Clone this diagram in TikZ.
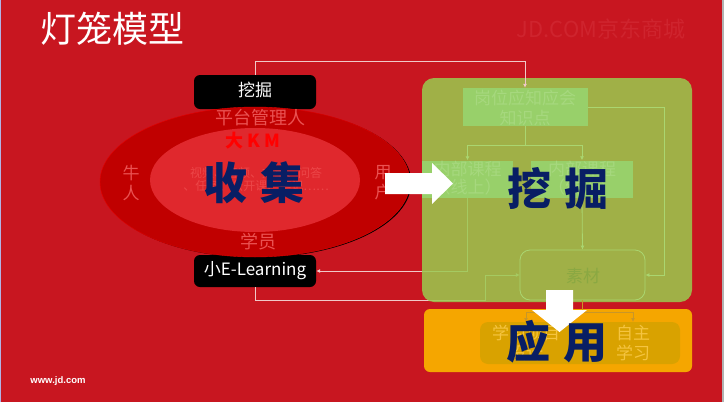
\documentclass[tikz,border=0pt]{standalone}
\usepackage{fontspec}
\setmainfont{Noto Sans CJK SC}
\newfontfamily\cjk{Noto Sans CJK SC}
\newfontfamily\arialf{Liberation Sans}
\usetikzlibrary{arrows.meta,shapes.geometric}
\definecolor{bgred}{RGB}{200,22,32}
\definecolor{ellred}{RGB}{192,0,0}
\definecolor{innred}{RGB}{224,40,45}
\definecolor{softred}{RGB}{234,82,82}
\definecolor{faintred}{RGB}{236,70,72}
\definecolor{navy}{RGB}{8,30,100}
\definecolor{olive}{RGB}{153,203,79}
\definecolor{litegreen}{RGB}{152,208,106}
\definecolor{linegreen}{RGB}{170,214,112}
\definecolor{gtext}{RGB}{166,216,126}
\definecolor{sctext}{RGB}{138,168,66}
\definecolor{orangebox}{RGB}{245,166,0}
\definecolor{darkyel}{RGB}{217,162,0}
\definecolor{yeltext}{RGB}{245,196,64}
\definecolor{tanline}{RGB}{200,150,40}
\definecolor{pinkline}{RGB}{240,200,200}
\definecolor{wmark}{RGB}{207,36,46}
\tikzset{
  fs/.style={font=\cjk\fontsize{#1}{#1}\selectfont},
  blackbox/.style={fill=black, rounded corners=6pt, minimum width=122pt, inner sep=0},
  gbox/.style={fill=litegreen, minimum width=#1, inner sep=0},
  txt/.style={inner sep=0, align=center},
  conn/.style={line width=0.8pt},
  tip/.style={-{Latex[length=4pt,width=4pt]}}
}
\begin{document}
\begin{tikzpicture}[x=1pt,y=-1pt]
\useasboundingbox (0,0) rectangle (724,402);
\fill[bgred] (0,0) rectangle (724,402);
\fill[gray!60] (721.5,0) rectangle (724,402);
\fill[gray!50!blue!40] (0,0) rectangle (0.8,402);

% title & watermark
\node[txt, fs=36, text=white] (title) at (113,29) {灯笼模型};
\node[txt, fs=22, text=wmark] (wm) at (601,29) {JD.COM京东商城};

% black boxes
\node[blackbox, minimum height=34pt] (wj) at (255,92) {};
\node[blackbox, minimum height=32pt] (elb) at (255,271) {};

% ellipses
\node[ellipse, fill=black, minimum width=310pt, minimum height=150pt, inner sep=0] (shad) at (256.3,182.6) {};
\node[ellipse, fill=ellred, draw=red!90!black, line width=0.4pt, minimum width=310pt, minimum height=150pt, inner sep=0] (outer) at (255,182) {};
\node[ellipse, fill=innred, minimum width=210pt, minimum height=104pt, inner sep=0] (inner) at (255,180) {};

\node[txt, fs=17, text=white] (wjt) at (255,90) {挖掘};
\node[txt, fs=17, text=white] (elbt) at (255,271) {小E-Learning};

\node[txt, fs=18, text=softred] (ptg) at (260,118) {平台管理人};
\node[txt, fs=18, text=red, font=\cjk\bfseries\fontsize{18}{18}\selectfont] (dkm) at (253,141) {大 K M};
\node[txt, fs=17, text=softred] (nr) at (131,183) {牛\\[3pt]人};
\node[txt, fs=17, text=softred] (yh) at (383,183) {用\\[3pt]户};
\node[txt, fs=18, text=softred] (xy) at (258,242) {学员};
\node[txt, fs=12, text=faintred] (res) at (256,179) {视频、音频、文章、问答\\[1pt]、任务、公开课、笔记……};
\node[txt, text=navy, font=\cjk\bfseries\fontsize{44}{44}\selectfont] (sj) at (254,183) {收\hspace{14pt}集};

% connectors under the green box
\node[gbox=91pt, minimum height=37pt] (k1) at (467.5,179) {};
\node[minimum width=125pt, minimum height=50pt, inner sep=0] (sc) at (582.5,275) {};
\coordinate (c6) at (485,275);
\draw[conn, pinkline, tip] (k1.south) |- (elb.east);
\draw[conn, pinkline, tip] (elb.south) -- ++(0,13) -| (c6) -- (sc.west);

% green overlay
\node[fill=olive, fill opacity=0.85, rounded corners=12pt, minimum width=270pt, minimum height=224pt, inner sep=0] (gb) at (557,190) {};

% inner flow boxes
\node[gbox=125pt, minimum height=38pt] (gw) at (525,107) {};
\node[gbox=91pt, minimum height=37pt] (k1b) at (467.5,179) {};
\node[gbox=102pt, minimum height=37pt] (k2) at (582,179) {};
\node[draw=linegreen, line width=0.8pt, rounded corners=10pt, minimum width=125pt, minimum height=50pt, inner sep=0] (scb) at (582.5,275) {};

\node[txt, fs=17, text=gtext] (gwt) at (525,107.5) {岗位应知应会\\[3pt]知识点};
\node[txt, fs=17, text=gtext] (k1t) at (467.5,178.5) {内部课程\\[1pt]（线上）};
\node[txt, fs=17, text=gtext] (k2t) at (582,178.5) {内部课程\\[1pt]（线下）};
\node[txt, fs=17, text=sctext] (sct) at (583,276) {素材};

\draw[conn, pinkline, tip] (wj.north) -- ++(0,-13) -| (gw.north);
\draw[conn, linegreen, tip] (gw.east) -- ++(77,0) |- (scb.east);
\draw[conn, linegreen] (gw.south) -- ++(0,19) coordinate (br);
\draw[conn, linegreen, tip] (br) -| (k1b.north);
\draw[conn, linegreen, tip] (br) -| (k2.north);
\draw[conn, linegreen, tip] (k2.south) -- (scb.north);

% orange box
\node[fill=orangebox, rounded corners=6pt, minimum width=268pt, minimum height=63pt, inner sep=0] (ob) at (558,340.5) {};
\node[fill=darkyel, rounded corners=8pt, minimum width=200pt, minimum height=42pt, inner sep=0] (ab) at (580,343) {};
\coordinate (t1) at (526,322);
\coordinate (t2) at (633,322);
\draw[conn, tanline] (scb.south) -- ++(0,12) coordinate (br2);
\draw[conn, tanline, tip] (br2) -| (t1);
\draw[conn, tanline, tip] (br2) -| (t2);
\node[txt, fs=17, text=yeltext] (a1) at (526,343) {学习项目\\[3pt]设计};
\node[txt, fs=17, text=yeltext] (a2) at (633,343.5) {自主\\[3pt]学习};

% white arrows
\fill[white] (385,173) -- (432,173) -- (432,163) -- (453,183.5) -- (432,204) -- (432,194) -- (385,194) -- cycle;
\fill[white] (546,290) -- (573,290) -- (573,310) -- (587,310) -- (559.5,332) -- (532,310) -- (546,310) -- cycle;

% big labels
\node[txt, text=navy, font=\cjk\bfseries\fontsize{44}{44}\selectfont] (wjbig) at (558,189) {挖\hspace{14pt}掘};
\node[txt, text=navy, font=\cjk\bfseries\fontsize{44}{44}\selectfont] (yy) at (557,342) {应\hspace{14pt}用};

\node[txt, text=white, font=\arialf\bfseries\fontsize{9.5}{10}\selectfont] (url) at (58,381) {www.jd.com};
\end{tikzpicture}
\end{document}
